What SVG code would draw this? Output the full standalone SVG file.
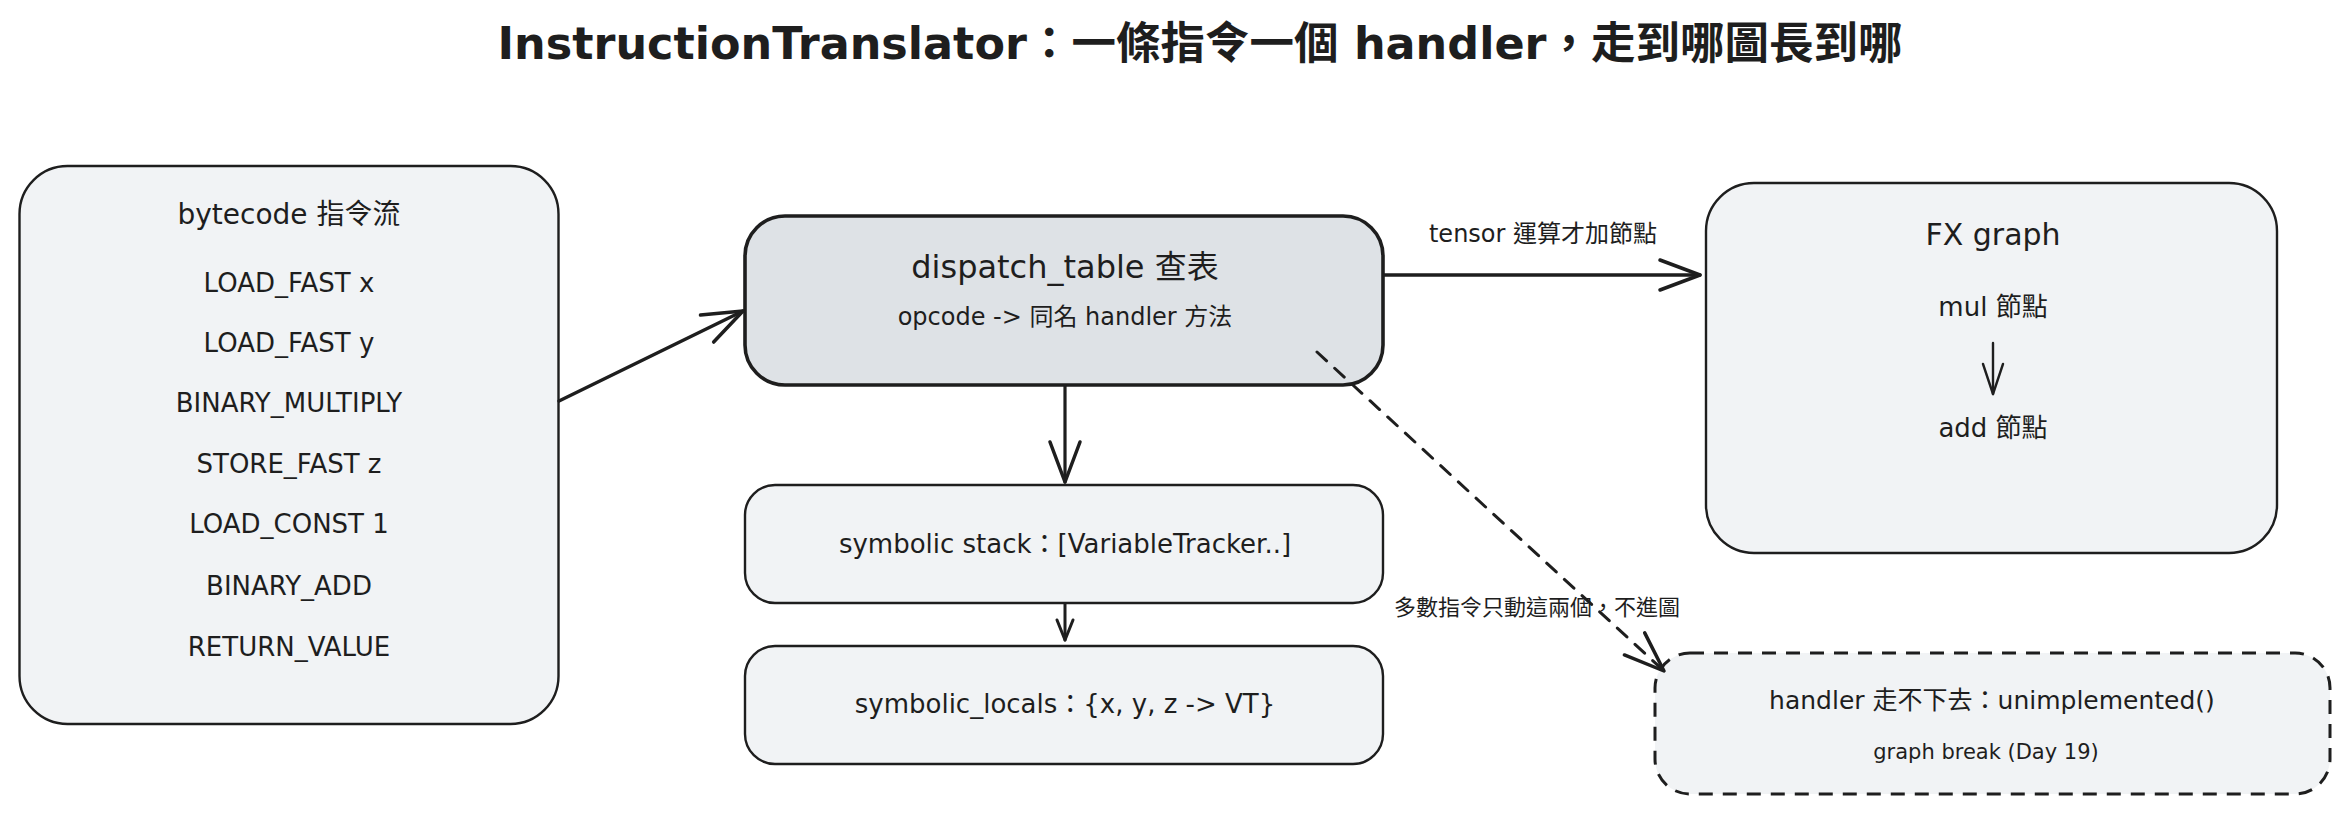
<svg xmlns="http://www.w3.org/2000/svg" width="2349" height="813" viewBox="0 0 2349 813">
<defs>
<style>
text{font-family:"DejaVu Sans","Noto Sans CJK TC",sans-serif;fill:#1e1e1e;text-anchor:middle;dominant-baseline:central}
.box{fill:#f1f3f5;stroke:#1e1e1e;stroke-width:2.4}
.hot{fill:#dee2e6;stroke:#1e1e1e;stroke-width:3.6}
.dash{fill:#f1f3f5;stroke:#1e1e1e;stroke-width:3;stroke-dasharray:14 10}
.ln{fill:none;stroke:#1e1e1e;stroke-linecap:round}
</style>
<marker id="big" markerUnits="userSpaceOnUse" orient="auto" overflow="visible" refX="0" refY="0" markerWidth="50" markerHeight="40">
<path d="M-40,-15 L0,0 L-40,15" fill="none" stroke="#1e1e1e" stroke-width="3.5" stroke-linecap="round" stroke-linejoin="round"/>
</marker>
<marker id="mid" markerUnits="userSpaceOnUse" orient="auto" overflow="visible" refX="0" refY="0" markerWidth="40" markerHeight="30">
<path d="M-30,-10 L0,0 L-30,10" fill="none" stroke="#1e1e1e" stroke-width="2.4" stroke-linecap="round" stroke-linejoin="round"/>
</marker>
<marker id="small" markerUnits="userSpaceOnUse" orient="auto" overflow="visible" refX="0" refY="0" markerWidth="30" markerHeight="20">
<path d="M-20,-8 L0,0 L-20,8" fill="none" stroke="#1e1e1e" stroke-width="3" stroke-linecap="round" stroke-linejoin="round"/>
</marker>
</defs>
<rect width="2349" height="813" fill="#ffffff"/>

<text id="title" x="1200" y="43" font-size="44.5" font-weight="600">InstructionTranslator：一條指令一個 handler，走到哪圖長到哪</text>

<g id="bytecode">
<rect class="box" x="19.5" y="166" width="539" height="558" rx="48"/>
<text x="289" y="214" font-size="28">bytecode 指令流</text>
<text x="289" y="283" font-size="26">LOAD_FAST x</text>
<text x="289" y="343" font-size="26">LOAD_FAST y</text>
<text x="289" y="403" font-size="26">BINARY_MULTIPLY</text>
<text x="289" y="464" font-size="26">STORE_FAST z</text>
<text x="289" y="524" font-size="26">LOAD_CONST 1</text>
<text x="289" y="586" font-size="26">BINARY_ADD</text>
<text x="289" y="647" font-size="26">RETURN_VALUE</text>
</g>

<g id="dispatch">
<rect class="hot" x="745" y="216" width="638" height="169" rx="40"/>
<text x="1065" y="267" font-size="32">dispatch_table 查表</text>
<text x="1065" y="317" font-size="24">opcode -&gt; 同名 handler 方法</text>
</g>

<g id="stack">
<rect class="box" x="745" y="485" width="638" height="118" rx="30"/>
<text x="1065" y="544" font-size="26">symbolic stack：[VariableTracker..]</text>
</g>

<g id="locals">
<rect class="box" x="745" y="646" width="638" height="118" rx="30"/>
<text x="1065" y="704" font-size="26">symbolic_locals：{x, y, z -&gt; VT}</text>
</g>

<g id="fxgraph">
<rect class="box" x="1706" y="183" width="571" height="370" rx="48"/>
<text x="1993" y="234" font-size="30">FX graph</text>
<text x="1993" y="307" font-size="26">mul 節點</text>
<path class="ln" d="M1993,343 L1993,394" stroke-width="2.4" marker-end="url(#mid)"/>
<text x="1993" y="428" font-size="26">add 節點</text>
</g>

<g id="handler">
<rect class="dash" x="1655" y="653" width="675" height="141" rx="35"/>
<text x="1992" y="700" font-size="25">handler 走不下去：unimplemented()</text>
<text x="1986" y="752" font-size="21">graph break (Day 19)</text>
</g>

<g id="connectors">
<path class="ln" d="M559,401 L743,311" stroke-width="3.5" marker-end="url(#big)"/>
<path class="ln" d="M1384,275 L1700,275" stroke-width="3.5" marker-end="url(#big)"/>
<path class="ln" d="M1065,386 L1065,482" stroke-width="3.2" marker-end="url(#big)"/>
<path class="ln" d="M1065,604 L1065,640" stroke-width="3" marker-end="url(#small)"/>
<path class="ln" d="M1317,352 L1664,671" stroke-width="3" stroke-dasharray="13 11" marker-end="url(#big)"/>
<text x="1543" y="234" font-size="24">tensor 運算才加節點</text>
<text x="1537" y="607" font-size="22">多數指令只動這兩個，不進圖</text>
</g>
</svg>
